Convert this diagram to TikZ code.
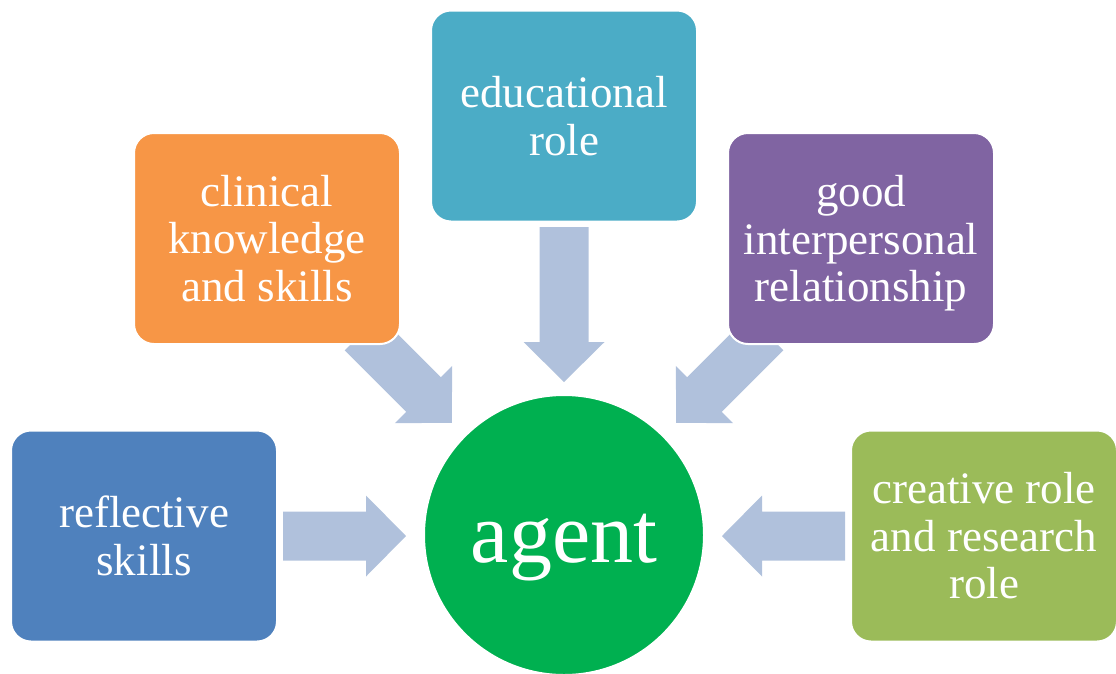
\documentclass[tikz,border=0pt]{standalone}
\usepackage{fontspec}
\setmainfont{Liberation Serif}
\definecolor{arrowc}{HTML}{B0C1DC}
\definecolor{cblue}{HTML}{4F81BD}
\definecolor{corange}{HTML}{F79646}
\definecolor{cteal}{HTML}{4BACC6}
\definecolor{cpurple}{HTML}{8064A2}
\definecolor{colive}{HTML}{9BBB59}
\definecolor{cgreen}{HTML}{00B050}
\tikzset{
  pics/blockarrow/.style={code={
    \fill[arrowc] (0,-24.5) -- (#1-40,-24.5) -- (#1-40,-40.5) -- (#1,0)
      -- (#1-40,40.5) -- (#1-40,24.5) -- (0,24.5) -- cycle;}},
  box/.style={draw=white, line width=2pt, rounded corners=20pt,
    minimum width=266pt, minimum height=211pt, inner sep=0pt,
    text=white, align=center, font=\fontsize{45}{47.5}\selectfont},
}
\begin{document}
\begin{tikzpicture}[x=1pt,y=-1pt]
\path[use as bounding box] (0,0) rectangle (1116,673);
% arrow tails
\coordinate (tRefl) at (283,536);
\coordinate (tCrea) at (845,536);
\coordinate (tEdu) at (564,227);
\coordinate (tClin) at (362,333);
\coordinate (tGood) at (766,333);
\pic at (tRefl) {blockarrow=123};
\pic[rotate=180] at (tCrea) {blockarrow=123};
\pic[rotate=-90] at (tEdu) {blockarrow=155};
\pic[rotate=-45] at (tClin) {blockarrow=127};
\pic[rotate=-135] at (tGood) {blockarrow=127};
% boxes
\node[box, fill=cblue] (refl) at (144,536) {reflective\\skills};
\node[box, fill=corange] (clin) at (267,238.5) {clinical\\knowledge\\and skills};
\node[box, fill=cteal] (edu) at (564,116) {educational\\role};
\node[box, fill=cpurple] (good) at (861,238.5) {good\\interpersonal\\\raisebox{0pt}[\height][0pt]{relationship}};
\node[box, fill=colive] (crea) at (984,536) {creative role\\and research\\role};
\node[circle, fill=cgreen, draw=white, line width=2pt, minimum size=280pt,
  inner sep=0pt, text=white, font=\fontsize{86}{90}\selectfont,
  text height=54pt, text depth=0pt] (agent) at (564,535) {agent};
\end{tikzpicture}
\end{document}
